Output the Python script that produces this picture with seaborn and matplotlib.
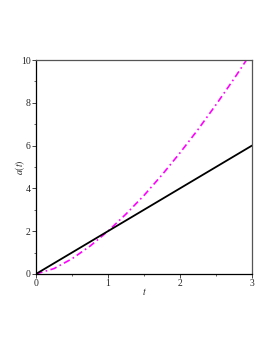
import matplotlib
matplotlib.use("Agg")
import seaborn as sns
from matplotlib import pyplot as plt
from matplotlib.ticker import MultipleLocator

# values
t_lin = [0.0, 1.0, 2.0, 3.0]
a_lin = [0.0, 2.0, 4.0, 6.0]
t_curve = [0.0, 0.25, 0.5, 0.75, 1.0, 1.25, 1.5, 1.75, 2.0, 2.25, 2.5, 2.75, 3.0]
a_curve = [0.0, 0.25, 0.71, 1.30, 2.0, 2.80, 3.67, 4.63, 5.66, 6.75, 7.91, 9.12, 10.39]

sns.set_style("white")
plt.rcParams["font.family"] = ["Liberation Serif", "DejaVu Serif"]
plt.rcParams["mathtext.fontset"] = "stix"

fig = plt.figure(figsize=(2.73, 3.53), dpi=100)
ax = fig.add_axes([0.132, 0.224, 0.791, 0.606])

sns.lineplot(x=t_curve, y=a_curve, ax=ax, color="#ff00ff", lw=1.2,
             linestyle=(0, (4, 2, 1, 2)))
sns.lineplot(x=t_lin, y=a_lin, ax=ax, color="black", lw=1.3)

ax.set_xlim(0, 3)
ax.set_ylim(0, 10)
ax.xaxis.set_major_locator(MultipleLocator(1))
ax.xaxis.set_minor_locator(MultipleLocator(0.5))
ax.yaxis.set_major_locator(MultipleLocator(2))
ax.yaxis.set_minor_locator(MultipleLocator(1))
ax.tick_params(which="major", direction="out", length=3, width=0.6,
               labelsize=7, pad=1, left=True, bottom=True)
ax.tick_params(which="minor", direction="out", length=1.5, width=0.5,
               left=True, bottom=True)

for side in ["left", "bottom"]:
    ax.spines[side].set_color("black")
    ax.spines[side].set_linewidth(0.9)
for side in ["top", "right"]:
    ax.spines[side].set_color("#555555")
    ax.spines[side].set_linewidth(0.9)

ax.set_xlabel("$t$", fontsize=7)
ax.set_ylabel("$a(t)$", fontsize=7)
ax.xaxis.set_label_coords(0.5, -0.084, transform=ax.transAxes)
ax.yaxis.set_label_coords(-0.074, 0.5, transform=ax.transAxes)
ax.xaxis.label.set_va("center")
ax.yaxis.label.set_va("center")

fig.savefig("out.png", dpi=100)
